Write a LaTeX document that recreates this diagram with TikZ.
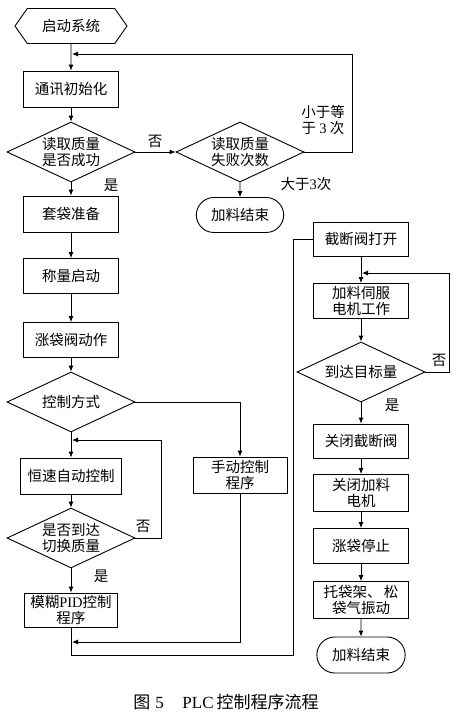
\documentclass[tikz,border=0pt]{standalone}
\usepackage{fontspec}
\setmainfont{Liberation Serif}
\newfontfamily\cjk{Noto Sans CJK SC}
\newcommand\ltn[1]{{\rmfamily #1}}
\usetikzlibrary{arrows.meta}
\usetikzlibrary{shapes.geometric, shapes.misc, shapes.symbols}

\begin{document}
\begin{tikzpicture}[x=1pt, y=-1pt, line width=.9pt, >={Latex[length=6pt,width=5pt]},
    font=\cjk\fontsize{14.5}{16.5}\selectfont,
    box/.style={draw, rectangle, minimum width=95pt, minimum height=35pt, align=center, inner sep=1pt},
    dia/.style={draw, diamond, aspect=2.13, minimum width=128pt, minimum height=60pt, inner sep=-2pt, align=center},
    term/.style={draw, rounded rectangle, minimum width=94pt, minimum height=35pt},
    hexa/.style={draw, signal, signal to=west and east, signal pointer angle=110, minimum width=112pt, minimum height=35pt},
    lbl/.style={inner sep=0pt, align=center}]
  \useasboundingbox (0,0) rectangle (464,721);
  % left column
  \node[hexa] (start) at (71,26) {启动系统};
  \node[box, minimum height=36pt] (init) at (71,89) {通讯初始化};
  \node[dia] (readok) at (71,152) {读取质量\\是否成功};
  \node[dia] (failcnt) at (240,152) {读取质量\\失败次数};
  \node[term] (end1) at (240,215) {加料结束};
  \node[box, minimum height=36pt] (bagprep) at (71,214) {套袋准备};
  \node[box] (weigh) at (71,276) {称量启动};
  \node[box] (bagvalve) at (71,340) {涨袋阀动作};
  \node[dia] (mode) at (71,402) {控制方式};
  \node[box, minimum width=101pt, minimum height=36pt] (autoctl) at (71,476) {恒速自动控制};
  \node[dia] (switchok) at (71,538) {是否到达\\切换质量};
  \node[box, minimum width=93pt, minimum height=34pt] (pid) at (71,610) {模糊\ltn{PID}控制\\程序};
  \node[box, minimum width=94pt, minimum height=36pt] (manual) at (240,475) {手动控制\\程序};
  % right column
  \node[box, minimum height=34pt] (valveopen) at (361,239) {截断阀打开};
  \node[box] (servo) at (361,301) {加料伺服\\电机工作};
  \node[dia] (target) at (361,372) {到达目标量};
  \node[box, minimum height=34pt] (valveclose) at (361,441) {关闭截断阀};
  \node[box, minimum height=37pt] (motoroff) at (361,493) {关闭加料\\电机};
  \node[box] (bagstop) at (361,546) {涨袋停止};
  \node[box, minimum height=37pt] (shake) at (361,600) {托袋架、\,松\\袋气振动};
  \node[term, minimum width=95pt, minimum height=36pt] (end2) at (361,655) {加料结束};
  % loop ends
  \coordinate (loop1) at (72,54);
  \coordinate (loop2) at (72,440);
  \coordinate (loop3) at (72,642);
  \coordinate (loop4) at (362,273);
  % straight arrows
  \foreach \a/\b in {start/init, init/readok, readok/bagprep, failcnt/end1,
      bagprep/weigh, weigh/bagvalve, bagvalve/mode, mode/autoctl, autoctl/switchok,
      switchok/pid, valveopen/servo, servo/target, target/valveclose,
      valveclose/motoroff, motoroff/bagstop, bagstop/shake, shake/end2}
    \draw[->] (\a) -- (\b);
  \draw[->] (readok) -- (failcnt);
  \draw[->] (failcnt.east) -- ++(48,0) |- (loop1);
  \draw[->] (mode.east) -| (manual.north);
  \draw[->] (switchok.east) -- ++(26,0) |- (loop2);
  \draw[->] (manual.south) |- (loop3);
  \draw (pid.south) |- (293,655) |- (valveopen.west);
  \draw[->] (target.east) -- ++(24,0) |- (loop4);
  % labels
  \node[lbl] (no1) at (155,141) {否};
  \node[lbl] (yes1) at (111,185) {是};
  \node[lbl] (le3) at (323,120) {小于等\\于 \ltn{3} 次};
  \node[lbl] (gt3) at (306,184) {大于\ltn{3}次};
  \node[lbl] (no2) at (143,526) {否};
  \node[lbl] (yes2) at (101,576) {是};
  \node[lbl] (no3) at (439,360) {否};
  \node[lbl] (yes3) at (392,405) {是};
  \node[lbl, font=\cjk\fontsize{17}{20}\selectfont] (caption) at (226,702)
    {图\hspace{5pt}\ltn{5}\hspace{1.1em}\ltn{PLC}\hspace{3pt}控制程序流程};
\end{tikzpicture}
\end{document}
